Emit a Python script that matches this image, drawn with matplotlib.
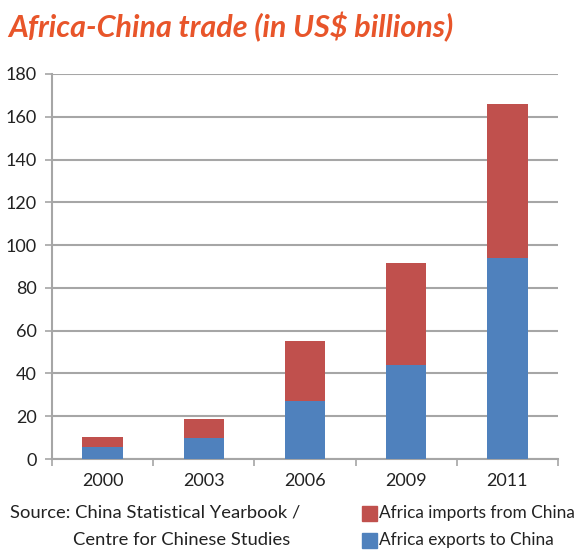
import matplotlib.pyplot as plt
import numpy as np

# datos (US$ miles de millones)
years = ['2000', '2003', '2006', '2009', '2011']
exports_to_china = [5.5, 9.9, 27.2, 44, 94]
imports_from_china = [4.7, 8.6, 27.8, 47.6, 72]

red = '#c0504d'
blue = '#4f81bd'
grid_c = '#a6a6a6'
plt.rcParams['font.family'] = ['Lato', 'DejaVu Sans']

fig = plt.figure(figsize=(5.87, 5.54), dpi=100)
ax = fig.add_axes([52/587, 95/554, 506/587, 385/554])

x = np.arange(len(years))
ax.bar(x, exports_to_china, width=0.4, color=blue, zorder=3)
ax.bar(x, imports_from_china, width=0.4, bottom=exports_to_china, color=red, zorder=3)

ax.set_xlim(-0.5, len(years) - 0.5)
ax.set_ylim(0, 180)
ax.set_yticks(range(0, 181, 20))
ax.yaxis.grid(True, color=grid_c, linewidth=1.5, zorder=0)
ax.set_axisbelow(True)

ax.set_xticks(x)
ax.set_xticklabels(years)
ax.set_xticks(np.arange(-0.5, len(years)), minor=True)
ax.tick_params(axis='x', which='major', length=0, pad=10, labelsize=13, colors='#222222')
ax.tick_params(axis='x', which='minor', length=5, width=1.2, color=grid_c)
ax.tick_params(axis='y', length=5, width=1.2, color=grid_c, labelsize=13, labelcolor='#222222', pad=6)

for s in ['top', 'right']:
    ax.spines[s].set_visible(False)
for s in ['left', 'bottom']:
    ax.spines[s].set_color(grid_c)
    ax.spines[s].set_linewidth(1.5)

fig.text(8/587, 1 - 27/554, 'Africa-China trade (in US$ billions)', fontsize=22,
         fontweight='bold', fontstyle='italic', color='#e8552a', va='center', ha='left')

fig.text(10/587, 1 - 513/554, 'Source: China Statistical Yearbook /', fontsize=13.2,
         color='#222222', va='center')
fig.text(73/587, 1 - 540/554, 'Centre for Chinese Studies', fontsize=13.2,
         color='#222222', va='center')

# leyenda manual
fig.patches.append(plt.Rectangle((362/587, 1 - 521/554), 15/587, 15/554,
                                 transform=fig.transFigure, color=red))
fig.patches.append(plt.Rectangle((362/587, 1 - 548/554), 15/587, 15/554,
                                 transform=fig.transFigure, color=blue))
fig.text(379/587, 1 - 513/554, 'Africa imports from China', fontsize=12.4,
         color='#222222', va='center')
fig.text(379/587, 1 - 540/554, 'Africa exports to China', fontsize=12.4,
         color='#222222', va='center')

fig.savefig('out.png', dpi=100)
